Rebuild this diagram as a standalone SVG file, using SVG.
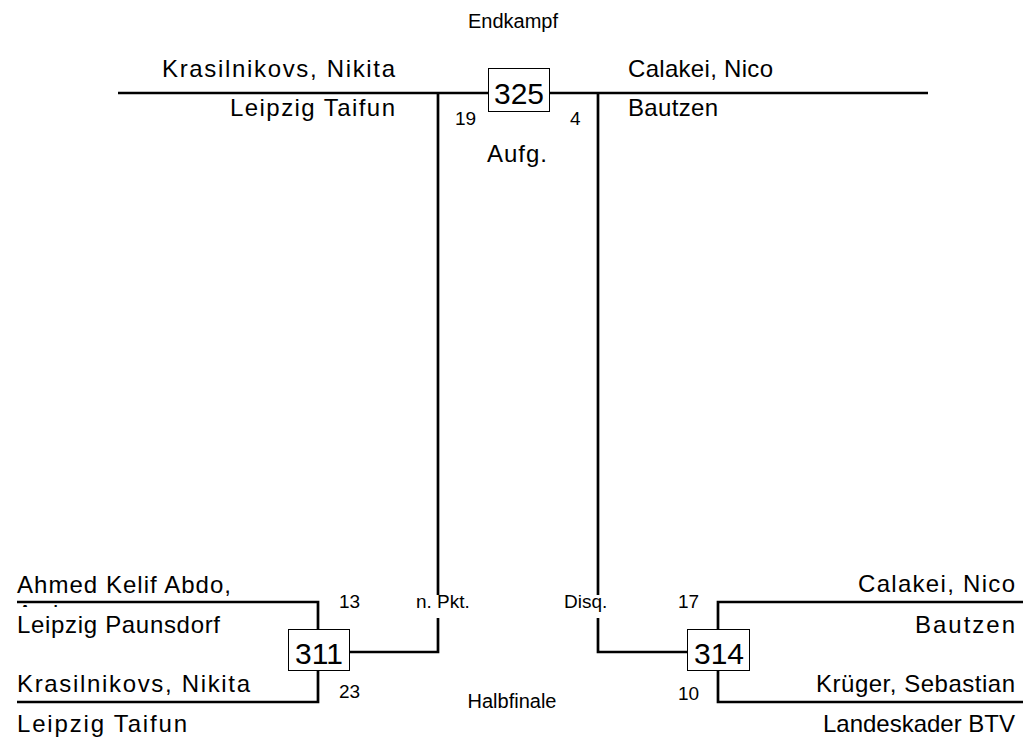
<svg xmlns="http://www.w3.org/2000/svg" width="1023" height="741" viewBox="0 0 1023 741">
<defs>
<style>
.t{font-family:"Liberation Sans",Arial,sans-serif;fill:#000}
.n{font-size:24px}
.s{font-size:19px}
.h{font-size:20px}
.b{font-size:30px}
.ln{stroke:#000;stroke-width:2.7;fill:none}
.bx{fill:#fff;stroke:#000;stroke-width:1}
</style>
<clipPath id="cl"><rect x="0" y="604" width="300" height="3"/></clipPath>
</defs>
<rect width="1023" height="741" fill="#fff"/>
<text class="t h" x="513" y="28" text-anchor="middle">Endkampf</text>
<text class="t h" x="512" y="708" text-anchor="middle">Halbfinale</text>
<g id="connectors">
<path class="ln" d="M118,93 H928"/>
<path class="ln" d="M438,93 V652 H349"/>
<path class="ln" d="M598,93 V652 H687"/>
<path class="ln" d="M17,602 H318 V629"/>
<path class="ln" d="M17,702 H318 V670"/>
<path class="ln" d="M1023,602 H718 V629"/>
<path class="ln" d="M1023,702 H718 V670"/>
<rect x="413" y="595" width="62" height="23" fill="#fff"/>
<rect x="560" y="595" width="52" height="23" fill="#fff"/>
</g>
<g id="m325">
<rect class="bx" x="488.5" y="68.5" width="61" height="43"/>
<text class="t b" x="519" y="104" text-anchor="middle">325</text>
<text class="t n" x="162" y="77" textLength="233">Krasilnikovs, Nikita</text>
<text class="t n" x="230" y="116" textLength="165">Leipzig Taifun</text>
<text class="t n" x="628" y="77" textLength="145">Calakei, Nico</text>
<text class="t n" x="628" y="116" textLength="90">Bautzen</text>
<text class="t s" x="455" y="125">19</text>
<text class="t s" x="570" y="125">4</text>
<text class="t n" x="487" y="162" textLength="60">Aufg.</text>
</g>
<g id="m311">
<rect class="bx" x="288.5" y="629.5" width="61" height="41"/>
<text class="t b" x="319" y="664" text-anchor="middle">311</text>
<text class="t n" x="17" y="593" textLength="214">Ahmed Kelif Abdo,</text>
<text class="t n" x="17" y="622" clip-path="url(#cl)">Amin</text>
<text class="t n" x="17" y="633" textLength="203">Leipzig Paunsdorf</text>
<text class="t n" x="17" y="692" textLength="233">Krasilnikovs, Nikita</text>
<text class="t n" x="17" y="732" textLength="170">Leipzig Taifun</text>
<text class="t s" x="339" y="608">13</text>
<text class="t s" x="339" y="698">23</text>
<text class="t s" x="416" y="608">n. Pkt.</text>
</g>
<g id="m314">
<rect class="bx" x="687.5" y="629.5" width="62" height="41"/>
<text class="t b" x="719" y="664" text-anchor="middle">314</text>
<text class="t n" x="858" y="592" textLength="157">Calakei, Nico</text>
<text class="t n" x="915" y="633" textLength="100">Bautzen</text>
<text class="t n" x="816" y="692" textLength="199">Krüger, Sebastian</text>
<text class="t n" x="823" y="732" textLength="192">Landeskader BTV</text>
<text class="t s" x="564" y="608">Disq.</text>
<text class="t s" x="678" y="608">17</text>
<text class="t s" x="678" y="700">10</text>
</g>
</svg>
